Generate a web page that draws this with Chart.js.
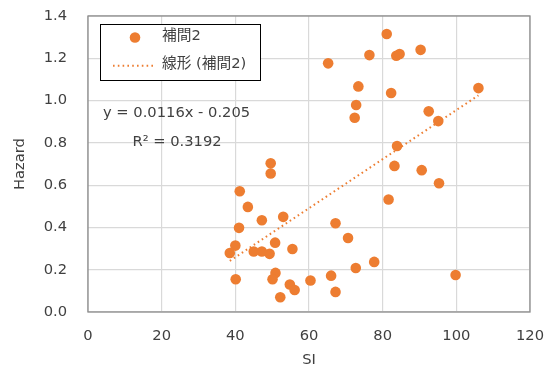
<!DOCTYPE html>
<html>
<head>
<meta charset="utf-8">
<script src="https://cdn.jsdelivr.net/npm/chart.js@4/dist/chart.umd.min.js"></script>
<style>
  html, body { margin: 0; padding: 0; background: #fff; }
  #wrap { width: 553px; height: 373px; }
</style>
</head>
<body>
<div id="wrap"><canvas id="c" width="553" height="373"></canvas></div>
<script>
// SI values and the matching Hazard values
const siValues = [65.2, 81.1, 76.4, 83.7, 84.6, 90.3, 73.4, 82.3, 72.8, 72.4,
                  106.0, 92.5, 95.1, 83.9, 83.2, 90.6, 95.3, 49.6, 49.6, 81.6,
                  53.0, 67.2, 70.6, 50.8, 55.5, 49.3, 77.7, 72.7, 50.9, 50.1,
                  60.4, 66.0, 99.8, 54.8, 56.1, 67.2, 52.2, 41.2, 43.4, 47.2,
                  41.0, 40.0, 38.5, 45.0, 47.2, 40.1];
const hazardValues = [1.176, 1.315, 1.215, 1.212, 1.220, 1.240, 1.067, 1.036, 0.979, 0.919,
                      1.059, 0.949, 0.903, 0.785, 0.691, 0.671, 0.609, 0.703, 0.655, 0.532,
                      0.450, 0.420, 0.350, 0.328, 0.298, 0.275, 0.237, 0.208, 0.185, 0.155,
                      0.149, 0.172, 0.175, 0.130, 0.104, 0.095, 0.070, 0.571, 0.497, 0.434,
                      0.398, 0.314, 0.279, 0.286, 0.286, 0.155];

// Linear trend line coefficients (as stated in the equation label)
const trendSlope = 0.0116;
const trendIntercept = -0.205;
const trendR2 = 0.3192;

const seriesName = '補間2';
const trendName = '線形 (補間2)';
const xTitle = 'SI';
const yTitle = 'Hazard';

const ORANGE = '#ED7D31';
const TEXT = '#404040';
const FONT = '"DejaVu Sans", "Noto Sans CJK JP", sans-serif';
const FS = 14.7;

// Plot-area box on the 553x373 canvas
const AREA = { left: 88, top: 16, right: 530, bottom: 312 };

const points = siValues.map((x, i) => ({ x: x, y: hazardValues[i] }));
const xMin = Math.min(...siValues), xMax = Math.max(...siValues);
const trendPoints = [xMin, xMax].map(x => ({ x: x, y: trendSlope * x + trendIntercept }));

const fmtSigned = v => (v < 0 ? ' - ' : ' + ') + Math.abs(v).toString();

// Plot frame, legend box and trend equation
const decorations = {
  id: 'decorations',
  afterDraw(chart) {
    const ctx = chart.ctx;
    const a = chart.chartArea;
    ctx.save();
    ctx.strokeStyle = '#8c8c8c';
    ctx.lineWidth = 1.3;
    ctx.strokeRect(a.left, a.top, a.right - a.left, a.bottom - a.top);

    // legend
    ctx.fillStyle = '#fff';
    ctx.fillRect(100.5, 24.5, 160, 56);
    ctx.strokeStyle = '#000';
    ctx.lineWidth = 1;
    ctx.strokeRect(100.5, 24.5, 160, 56);
    ctx.fillStyle = ORANGE;
    ctx.beginPath();
    ctx.arc(135, 37.5, 5.3, 0, Math.PI * 2);
    ctx.fill();
    ctx.strokeStyle = ORANGE;
    ctx.lineWidth = 2;
    ctx.setLineDash([1.6, 3.2]);
    ctx.beginPath();
    ctx.moveTo(113, 65.7);
    ctx.lineTo(156, 65.7);
    ctx.stroke();
    ctx.setLineDash([]);
    ctx.fillStyle = TEXT;
    ctx.font = FS + 'px ' + FONT;
    ctx.textBaseline = 'middle';
    ctx.textAlign = 'left';
    ctx.fillText(seriesName, 162, 36);
    ctx.fillText(trendName, 162, 64.5);

    // equation
    ctx.fillText('y = ' + trendSlope + 'x' + fmtSigned(trendIntercept), 103, 113.5);
    ctx.fillText('R² = ' + trendR2, 132.5, 142);
    ctx.restore();
  }
};

new Chart(document.getElementById('c'), {
  type: 'scatter',
  data: {
    datasets: [
      {
        label: seriesName,
        data: points,
        backgroundColor: ORANGE,
        borderColor: ORANGE,
        pointRadius: 5.3,
        pointBorderWidth: 0,
        order: 1
      },
      {
        label: trendName,
        type: 'line',
        data: trendPoints,
        borderColor: ORANGE,
        borderWidth: 2,
        borderDash: [1.6, 3.2],
        pointRadius: 0,
        fill: false,
        order: 2
      }
    ]
  },
  options: {
    responsive: false,
    maintainAspectRatio: false,
    animation: false,
    events: [],
    layout: { padding: { top: AREA.top, right: 553 - AREA.right, left: 0, bottom: 0 } },
    plugins: { legend: { display: false }, tooltip: { enabled: false } },
    scales: {
      x: {
        type: 'linear',
        min: 0, max: 120,
        ticks: { stepSize: 20, color: TEXT, font: { family: FONT, size: FS }, padding: 15 },
        grid: { color: '#d9d9d9', lineWidth: 1.2, drawTicks: false },
        border: { display: false },
        title: { display: true, text: xTitle, color: TEXT, font: { family: FONT, size: FS }, padding: { top: 14 } },
        afterFit(s) { s.height = 373 - AREA.bottom; s.paddingLeft = 0; s.paddingRight = 0; }
      },
      y: {
        type: 'linear',
        min: 0, max: 1.4,
        ticks: { stepSize: 0.2, color: TEXT, font: { family: FONT, size: FS }, padding: 21,
                 callback: v => Number(v).toFixed(1) },
        grid: { color: '#d9d9d9', lineWidth: 1.2, drawTicks: false },
        border: { display: false },
        title: { display: true, text: yTitle, color: TEXT, font: { family: FONT, size: FS }, padding: { top: 11, bottom: 4 } },
        afterFit(s) { s.width = AREA.left; s.paddingTop = 0; s.paddingBottom = 0; }
      }
    }
  },
  plugins: [decorations]
});
</script>
</body>
</html>
